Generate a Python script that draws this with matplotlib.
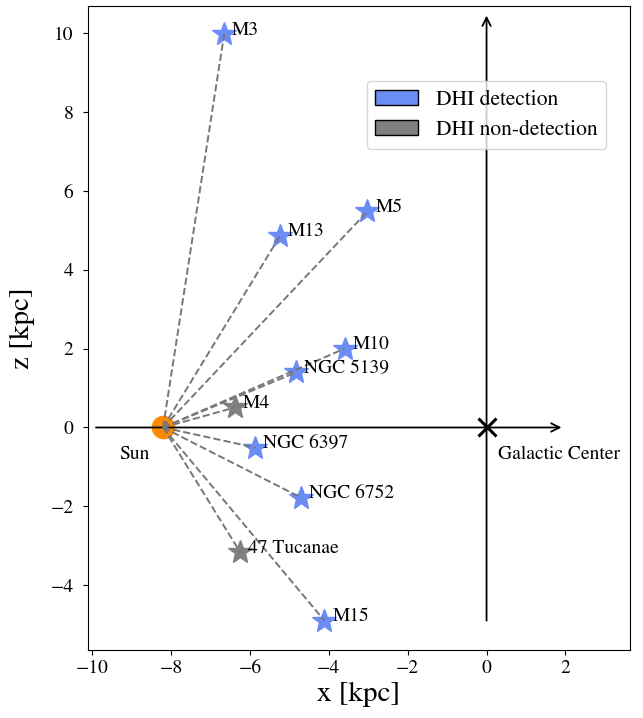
import matplotlib
matplotlib.use("Agg")
from matplotlib import pyplot as plt
from matplotlib.patches import Patch

plt.rcParams['font.family'] = ['STIXGeneral', 'DejaVu Serif']
plt.rcParams['mathtext.fontset'] = 'stix'

sun_x, sun_z = -8.2, 0.0

names = ['M3', 'M13', 'M5', 'M10', 'NGC 5139', 'M4',
         'NGC 6397', 'NGC 6752', '47 Tucanae', 'M15']
xs = [-6.65, -5.23, -3.02, -3.60, -4.82, -6.37, -5.86, -4.70, -6.24, -4.11]
zs = [9.98, 4.87, 5.48, 2.00, 1.40, 0.51, -0.51, -1.78, -3.17, -4.90]
detected = [True, True, True, True, True, False, True, True, False, True]

blue = '#6b8cf5'
grey = '#808080'

fig = plt.figure(figsize=(6.43, 7.18), dpi=100)
ax = fig.add_axes([0.137, 0.095, 0.843, 0.897])

# axes arrows
ax.annotate('', xy=(1.9, 0), xytext=(-9.9, 0),
            arrowprops=dict(arrowstyle='->', color='k', lw=1.3,
                            shrinkA=0, shrinkB=0, mutation_scale=15))
ax.annotate('', xy=(0, 10.45), xytext=(0, -4.9),
            arrowprops=dict(arrowstyle='->', color='k', lw=1.3,
                            shrinkA=0, shrinkB=0, mutation_scale=15))

for x, z, name, det in zip(xs, zs, names, detected):
    c = blue if det else grey
    ax.plot(x, z, marker='*', ms=18, color=c, mec=c, ls='none', zorder=2)
    ax.plot([sun_x, x], [sun_z, z], ls='--', color='#777777', lw=1.4, zorder=3)
    ax.text(x + 0.2, z + 0.1, name, fontsize=14, va='center', ha='left', zorder=4)

ax.plot(sun_x, sun_z, 'o', color='darkorange', ms=16, zorder=2)
ax.plot(0, 0, 'x', color='k', ms=13, mew=2.2, zorder=5)

ax.text(-9.3, -0.68, 'Sun', fontsize=14, va='center', ha='left')
ax.text(0.28, -0.68, 'Galactic Center', fontsize=14, va='center', ha='left')

handles = [Patch(facecolor=blue, edgecolor='k', label='DHI detection'),
           Patch(facecolor=grey, edgecolor='k', label='DHI non-detection')]
ax.legend(handles=handles, loc='upper right', bbox_to_anchor=(0.975, 0.90),
          fontsize=15.5)

ax.set_xlim(-10.1, 3.64)
ax.set_ylim(-5.64, 10.7)
ax.set_xticks([-10, -8, -6, -4, -2, 0, 2])
ax.set_yticks([-4, -2, 0, 2, 4, 6, 8, 10])
ax.tick_params(labelsize=14)
ax.tick_params(axis='y', pad=7)
ax.set_xlabel('x [kpc]', fontsize=21)
ax.set_ylabel('z [kpc]', fontsize=21, labelpad=11)

fig.savefig('out.png', dpi=100)
